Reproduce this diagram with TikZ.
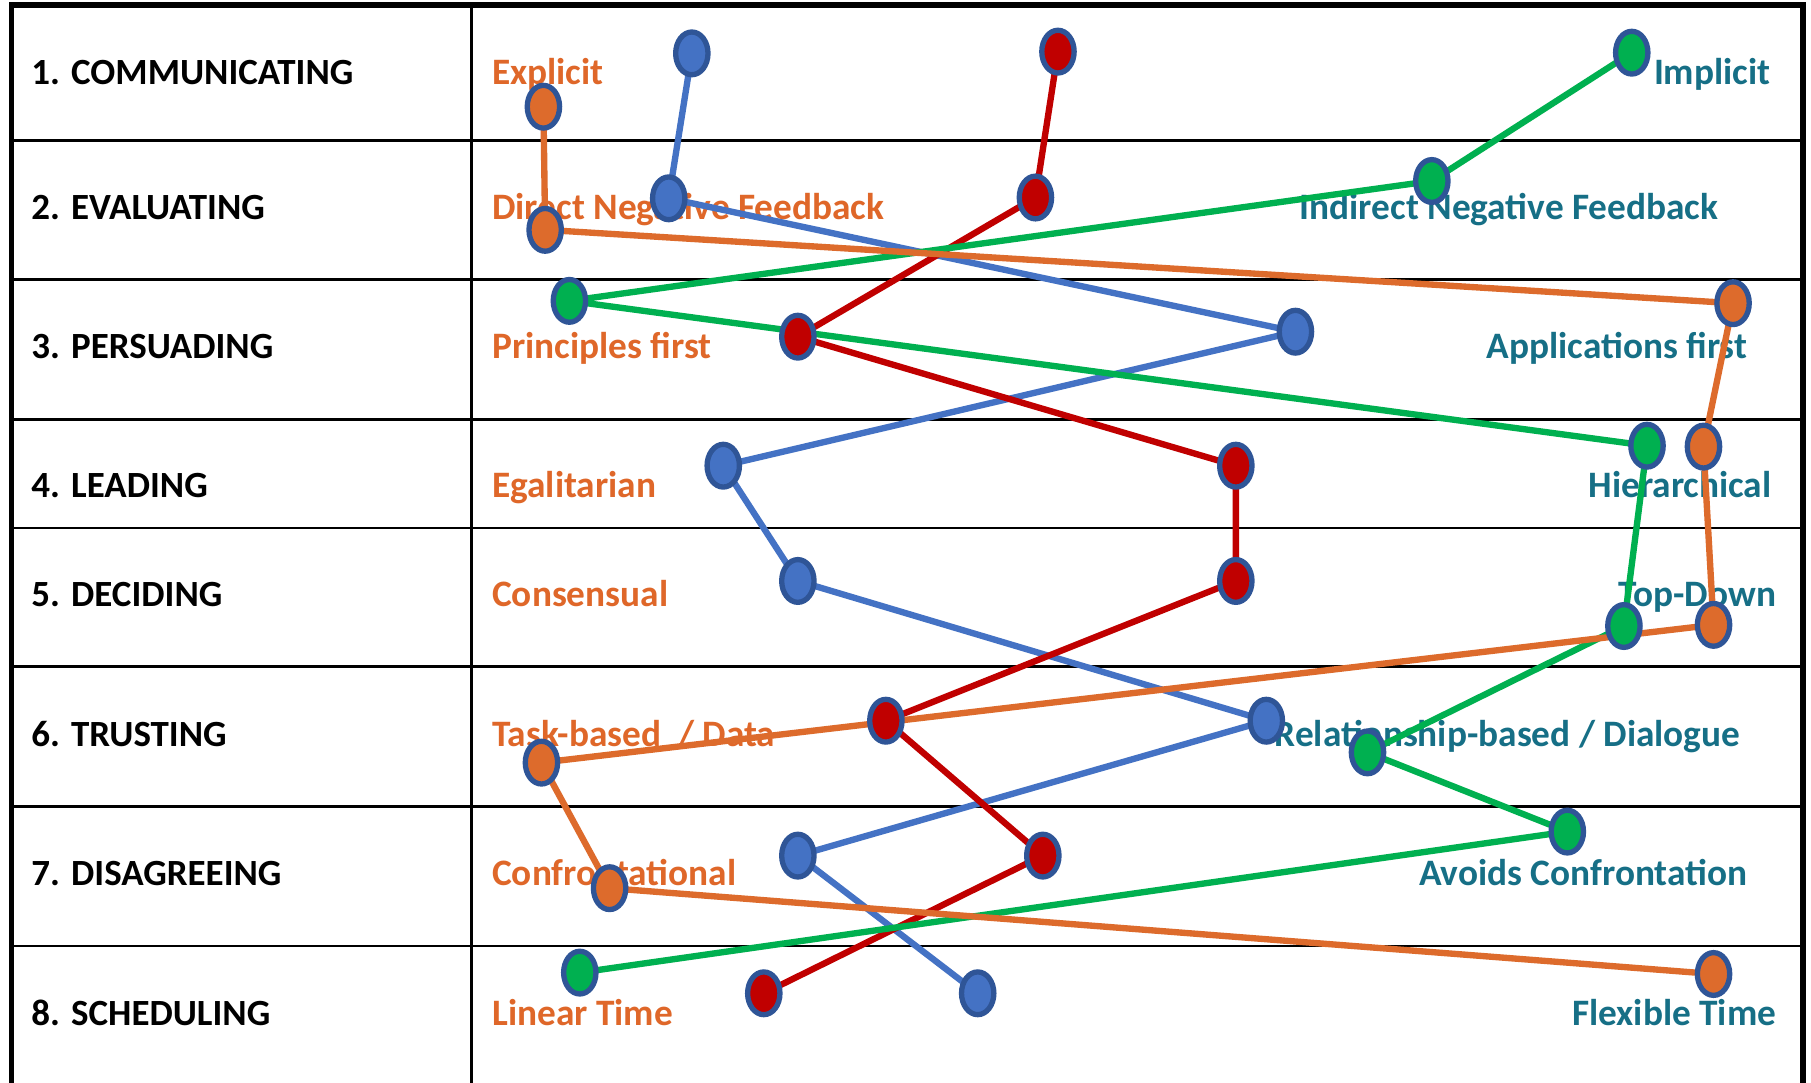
\documentclass[tikz,border=0pt]{standalone}
\usepackage{fontspec}
\setmainfont{Carlito}
\usetikzlibrary{shapes.geometric}
\pgfdeclarelayer{bg}
\pgfdeclarelayer{conn}
\pgfsetlayers{bg,conn,main}
\definecolor{orangeT}{HTML}{DF6729}
\definecolor{tealT}{HTML}{166F86}
\definecolor{blueL}{HTML}{4472C4}
\definecolor{redL}{HTML}{C00000}
\definecolor{greenL}{HTML}{00B050}
\definecolor{orangeL}{HTML}{DD6B2C}
\definecolor{rim}{HTML}{2F5597}
\begin{document}
\begin{tikzpicture}[x=1pt,y=-1pt,
  dot/.style={ellipse, draw=rim, line width=4.6pt, minimum width=28pt, minimum height=37pt, inner sep=0pt},
  rowlabel/.style={anchor=base west, font=\bfseries\fontsize{32}{36}\selectfont, text=black, inner sep=0pt},
  lefttxt/.style={anchor=base west, font=\bfseries\fontsize{32.3}{36}\selectfont, text=orangeT, inner sep=0pt},
  righttxt/.style={anchor=base east, font=\bfseries\fontsize{32.3}{36}\selectfont, text=tealT, inner sep=0pt},
  conn/.style={line width=5.5pt, line join=round},
  gridline/.style={line width=2.2pt, black},
  frameline/.style={line width=4.5pt, black}]
\useasboundingbox (0,0) rectangle (1568,937);
\begin{pgfonlayer}{bg}
\fill[white] (0,0) rectangle (1568,937);
\foreach \yy in {121.5,242,363,457,577,698.5,819}
  \draw[gridline] (10.3,\yy) -- (1561,\yy);
\draw[gridline] (408,4.3) -- (408,940);
\draw[frameline] (10.3,940) -- (10.3,4.3) -- (1561,4.3) -- (1561,940);
% row labels
\node[rowlabel] (l1) at (27,73) {1. COMMUNICATING};
\node[rowlabel] (l2) at (27,190) {2. EVALUATING};
\node[rowlabel] (l3) at (27,310) {3. PERSUADING};
\node[rowlabel] (l4) at (27,431) {4. LEADING};
\node[rowlabel] (l5) at (27,525) {5. DECIDING};
\node[rowlabel] (l6) at (27,646) {6. TRUSTING};
\node[rowlabel] (l7) at (27,767) {7. DISAGREEING};
\node[rowlabel] (l8) at (27,888) {8. SCHEDULING};
% left poles
\node[lefttxt] (a1) at (426,73) {Explicit};
\node[lefttxt] (a2) at (426,190) {Direct Negative Feedback};
\node[lefttxt] (a3) at (426,310) {Principles first};
\node[lefttxt] (a4) at (426,431) {Egalitarian};
\node[lefttxt] (a5) at (426,525) {Consensual};
\node[lefttxt] (a6) at (426,646) {Task-based\ \ / Data};
\node[lefttxt] (a7) at (426,767) {Confrontational};
\node[lefttxt] (a8) at (426,888) {Linear Time};
% right poles
\node[righttxt] (z1) at (1533,73) {Implicit};
\node[righttxt] (z2) at (1488,190) {Indirect Negative Feedback};
\node[righttxt] (z3) at (1513,310) {Applications first};
\node[righttxt] (z4) at (1534,431) {Hierarchical};
\node[righttxt] (z5) at (1538,525) {Top-Down};
\node[righttxt] (z6) at (1507,646) {Relationship-based / Dialogue};
\node[righttxt] (z7) at (1513,767) {Avoids Confrontation};
\node[righttxt] (z8) at (1538,888) {Flexible Time};
\end{pgfonlayer}
% blue profile
\node[dot, fill=blueL] (b1) at (599,46.2) {};
\node[dot, fill=blueL] (b2) at (579,171.7) {};
\node[dot, fill=blueL] (b3) at (1121.6,287.2) {};
\node[dot, fill=blueL] (b4) at (626.2,403.2) {};
\node[dot, fill=blueL] (b5) at (690.8,503) {};
\node[dot, fill=blueL] (b6) at (1096.4,624) {};
\node[dot, fill=blueL] (b7) at (690.8,740.8) {};
\node[dot, fill=blueL] (b8) at (846.5,860) {};
% red profile
\node[dot, fill=redL] (r1) at (916,44.7) {};
\node[dot, fill=redL] (r2) at (896.5,171) {};
\node[dot, fill=redL] (r3) at (690.8,291.5) {};
\node[dot, fill=redL] (r4) at (1070,403.2) {};
\node[dot, fill=redL] (r5) at (1070,503) {};
\node[dot, fill=redL] (r6) at (767,624) {};
\node[dot, fill=redL] (r7) at (902.9,740.8) {};
\node[dot, fill=redL] (r8) at (661.3,860) {};
% green profile
\node[dot, fill=greenL] (g1) at (1412.8,45.6) {};
\node[dot, fill=greenL] (g2) at (1239.7,156.7) {};
\node[dot, fill=greenL] (g3) at (493,260.5) {};
\node[dot, fill=greenL] (g4) at (1426,385.9) {};
\node[dot, fill=greenL] (g5) at (1406,542) {};
\node[dot, fill=greenL] (g6) at (1184,651.4) {};
\node[dot, fill=greenL] (g7) at (1357,720) {};
\node[dot, fill=greenL] (g8) at (502,842.1) {};
% orange profile
\node[dot, fill=orangeL] (o1) at (470.5,92.4) {};
\node[dot, fill=orangeL] (o2) at (472,199) {};
\node[dot, fill=orangeL] (o3) at (1500.5,262.5) {};
\node[dot, fill=orangeL] (o4) at (1474.9,386.7) {};
\node[dot, fill=orangeL] (o5) at (1483.6,541) {};
\node[dot, fill=orangeL] (o6) at (468.8,660.3) {};
\node[dot, fill=orangeL] (o7) at (527.8,769) {};
\node[dot, fill=orangeL] (o8) at (1483.6,843.3) {};
\begin{pgfonlayer}{conn}
\draw[conn, blueL] (b1.center) -- (b2.center) -- (b3.center) -- (b4.center) -- (b5.center) -- (b6.center) -- (b7.center) -- (b8.center);
\draw[conn, redL] (r1.center) -- (r2.center) -- (r3.center) -- (r4.center) -- (r5.center) -- (r6.center) -- (r7.center) -- (r8.center);
\draw[conn, greenL] (g1.center) -- (g2.center) -- (g3.center) -- (g4.center) -- (g5.center) -- (g6.center) -- (g7.center) -- (g8.center);
\draw[conn, orangeL] (o1.center) -- (o2.center) -- (o3.center) -- (o4.center) -- (o5.center) -- (o6.center) -- (o7.center) -- (o8.center);
\end{pgfonlayer}
\end{tikzpicture}
\end{document}
